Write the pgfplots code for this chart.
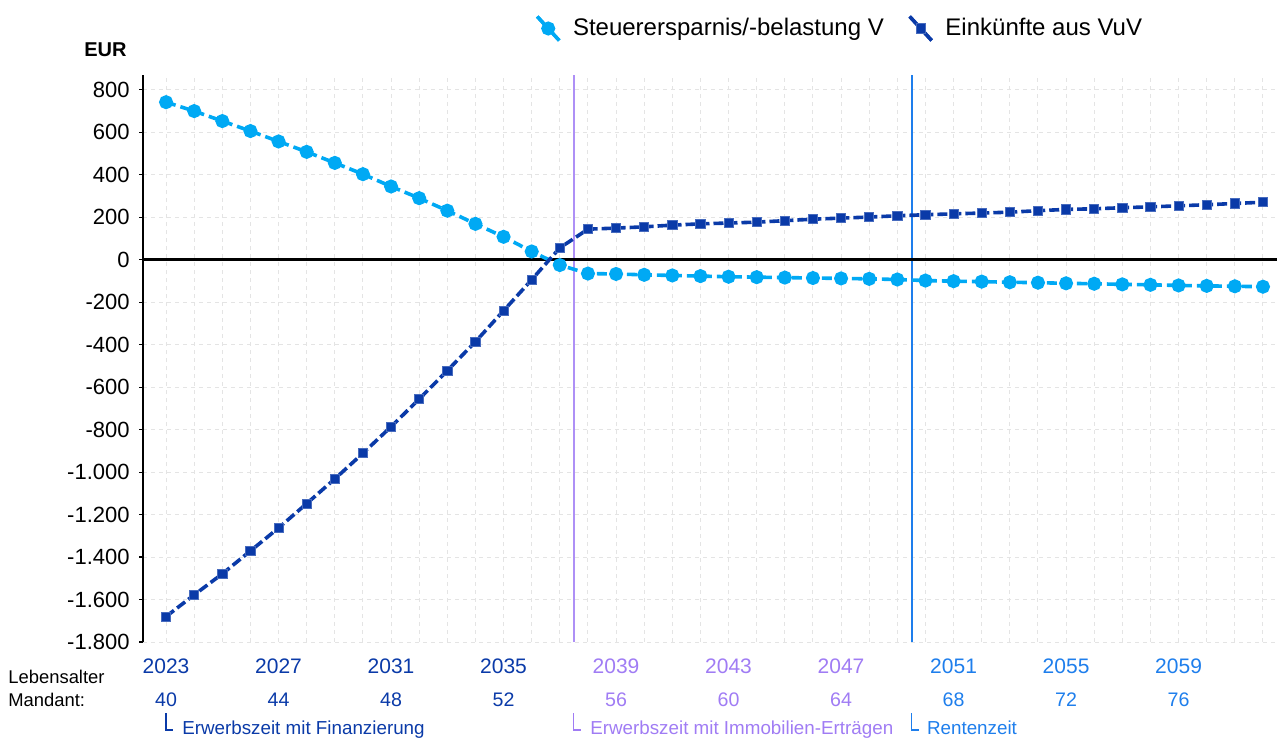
\documentclass[border=0pt]{standalone}
\usepackage{fontspec}
\setmainfont{Liberation Sans}
\usepackage{pgfplots}
\pgfplotsset{compat=1.18}

\definecolor{hellblau}{HTML}{00A9F4}
\definecolor{dunkelblau}{HTML}{0A3AA8}
\definecolor{lila}{HTML}{A07CF4}
\definecolor{rente}{HTML}{1E7EEC}
\definecolor{gitter}{HTML}{E4E4E4}

% x = Jahr - 2023
\begin{document}
\begin{tikzpicture}
\useasboundingbox (0,0) rectangle (638.5pt,370pt);
\begin{axis}[
    at={(71.5pt,49pt)}, anchor=south west,
    scale only axis, width=567pt, height=283.5pt,
    xmin=-0.82, xmax=39.5,
    ymin=-1800, ymax=870,
    clip=false,
    axis y line*=left, axis x line*=bottom,
    x axis line style={draw=none},
    y axis line style={black, line width=1pt, -},
    tick align=outside, major tick length=2pt,
    xtick style={draw=none}, minor tick style={draw=none},
    ytick style={black, line width=0.6pt},
    grid=both,
    major grid style={gitter, dash pattern=on 2pt off 2pt, line width=0.5pt},
    minor grid style={gitter, dash pattern=on 2pt off 2pt, line width=0.5pt},
    ytick={-1800,-1600,...,800},
    yticklabels={-1.800,-1.600,-1.400,-1.200,-1.000,-800,-600,-400,-200,0,200,400,600,800},
    yticklabel style={font=\fontsize{11}{13}\selectfont, inner sep=0pt, xshift=-4.5pt},
    minor xtick={0,1,...,39},
    xtick={0,4,...,36},
    xticklabels={\textcolor{dunkelblau}{2023},\textcolor{dunkelblau}{2027},\textcolor{dunkelblau}{2031},\textcolor{dunkelblau}{2035},
      \textcolor{lila}{2039},\textcolor{lila}{2043},\textcolor{lila}{2047},
      \textcolor{rente}{2051},\textcolor{rente}{2055},\textcolor{rente}{2059}},
    xticklabel style={font=\fontsize{10.5}{12}\selectfont, inner sep=0pt, anchor=base, yshift=-13.5pt},
    extra x ticks={0,4,8,12,16,20,24,28,32,36},
    extra x tick labels={\textcolor{dunkelblau}{40},\textcolor{dunkelblau}{44},\textcolor{dunkelblau}{48},\textcolor{dunkelblau}{52},
      \textcolor{lila}{56},\textcolor{lila}{60},\textcolor{lila}{64},
      \textcolor{rente}{68},\textcolor{rente}{72},\textcolor{rente}{76}},
    extra x tick style={grid=none, xticklabel style={font=\fontsize{9.8}{11}\selectfont, yshift=-16.5pt}},
    legend columns=-1,
    legend style={draw=none, fill=none, inner sep=0pt, at={(0.3457,1.082)}, anchor=west,
      font=\fontsize{12}{14}\selectfont,
      /tikz/every odd column/.append style={column sep=4pt},
      /tikz/every even column/.append style={column sep=10pt}},
    legend image code/.code={
      \draw[#1, solid, line width=1.6pt] (0pt,6pt) -- (11pt,-6pt);
      \draw[#1, solid, mark repeat=2, mark phase=2] plot coordinates {(0pt,6pt) (5.5pt,0pt) (11pt,-6pt)};
    },
]
% Phasengrenzen und Nulllinie
\draw[lila!85!white, line width=0.8pt] (axis cs:14.5,-1800) -- (axis cs:14.5,870);
\draw[rente, line width=0.9pt] (axis cs:26.51,-1800) -- (axis cs:26.51,870);
\draw[black, line width=1.3pt] (axis cs:-0.82,0) -- (axis cs:39.5,0);

\addplot[hellblau, line width=1.8pt, dash pattern=on 5pt off 2.5pt,
    mark=*, mark size=2.6pt, mark options={solid, fill=hellblau, draw=hellblau}]
  coordinates {
  (0,742) (1,700) (2,653) (3,606) (4,557) (5,508) (6,456) (7,403)
  (8,345) (9,290) (10,231) (11,169) (12,108) (13,39) (14,-25)
  (15,-65) (16,-67) (17,-71) (18,-74) (19,-77) (20,-80) (21,-82) (22,-84)
  (23,-86) (24,-88) (25,-90) (26,-93)
  (27,-98) (28,-101) (29,-103) (30,-106) (31,-108) (32,-111) (33,-113)
  (34,-116) (35,-118) (36,-121) (37,-123) (38,-125) (39,-127)
  };
\addlegendentry{Steuerersparnis/-belastung V}

\addplot[dunkelblau, line width=1.8pt, dash pattern=on 5pt off 2pt,
    mark=square*, mark size=2.3pt, mark options={solid, fill=dunkelblau, draw=dunkelblau!75!white, line width=0.4pt}]
  coordinates {
  (0,-1680) (1,-1578) (2,-1479) (3,-1371) (4,-1263) (5,-1148) (6,-1032)
  (7,-911) (8,-786) (9,-656) (10,-522) (11,-386) (12,-240) (13,-94)
  (14,56) (15,144) (16,149) (17,155) (18,163) (19,169) (20,173) (21,177)
  (22,184) (23,191) (24,196) (25,201) (26,207)
  (27,212) (28,216) (29,220) (30,224) (31,231) (32,237) (33,240)
  (34,245) (35,249) (36,254) (37,259) (38,265) (39,271)
  };
\addlegendentry{Einkünfte aus VuV}

% Phasenbeschriftung
\draw[dunkelblau, line width=0.6pt] ([yshift=-35.5pt]axis cs:0,-1800) -- ([yshift=-44pt]axis cs:0,-1800) -- ([xshift=3.5pt,yshift=-44pt]axis cs:0,-1800);
\node[anchor=base west, inner sep=0pt, text=dunkelblau, font=\fontsize{9.4}{11}\selectfont]
  at ([xshift=7.9pt, yshift=-46pt]axis cs:0,-1800) {Erwerbszeit mit Finanzierung};
\draw[lila, line width=0.6pt] ([yshift=-35.5pt]axis cs:14.5,-1800) -- ([yshift=-44pt]axis cs:14.5,-1800) -- ([xshift=3.5pt,yshift=-44pt]axis cs:14.5,-1800);
\node[anchor=base west, inner sep=0pt, text=lila, font=\fontsize{9.4}{11}\selectfont]
  at ([xshift=8pt, yshift=-46pt]axis cs:14.5,-1800) {Erwerbszeit mit Immobilien-Erträgen};
\draw[rente, line width=0.6pt] ([yshift=-35.5pt]axis cs:26.51,-1800) -- ([yshift=-44pt]axis cs:26.51,-1800) -- ([xshift=3.5pt,yshift=-44pt]axis cs:26.51,-1800);
\node[anchor=base west, inner sep=0pt, text=rente, font=\fontsize{9.4}{11}\selectfont]
  at ([xshift=7.5pt, yshift=-46pt]axis cs:26.51,-1800) {Rentenzeit};
\end{axis}

\node[font=\bfseries\fontsize{10}{12}\selectfont] at (52.75pt,345pt) {EUR};
\node[anchor=base west, inner sep=0pt, font=\fontsize{9.2}{11}\selectfont] at (4pt,28.5pt) {Lebensalter};
\node[anchor=base west, inner sep=0pt, font=\fontsize{9.2}{11}\selectfont] at (4pt,17pt) {Mandant:};
\end{tikzpicture}
\end{document}
